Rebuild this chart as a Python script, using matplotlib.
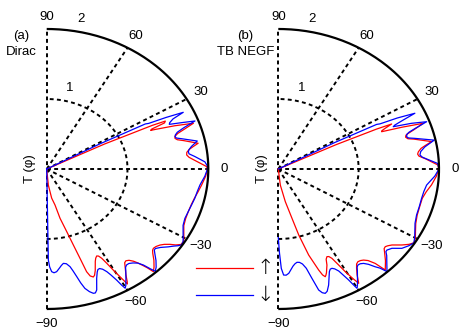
import numpy as np
import matplotlib
matplotlib.use("Agg")
import matplotlib.pyplot as plt
from matplotlib.lines import Line2D

# ---- panel (a): Dirac ----
phi_a_up = [90, 27.5, 26.5, 25.5, 25.0, 24.3, 23.7, 23.2, 22.8, 21.3, 19.8, 18.5, 17.4, 16.4, 15.4,
            14.5, 13.5, 11.1, 10.0, 9.0, 7.8, 6.6, 5.4, 4.0, 1.0, 0, -3, -6.9, -10, -12.9, -16,
            -19, -22.4, -25.5, -27.9, -30, -31.5, -33, -34.2, -35.2, -36.5, -37.8, -39.3, -40.6,
            -41.5, -42.5, -44.5, -46.5, -48, -48.6, -49.2, -50.0, -50.8, -52.0, -53.2, -54.2,
            -55, -57, -58.2, -58.7, -59.4, -60.3, -61.1, -61.9, -62.7, -63.5, -64.5, -65.5,
            -67.5, -68.7, -69.5, -70.6, -71.4, -72.1, -73.1, -74.5, -76.8, -78.7, -81.6, -85, -90]
t_a_up = [0, 0, 0.8, 1.45, 1.62, 1.60, 1.42, 1.40, 1.46, 1.70, 1.93, 1.80, 1.70, 1.655, 1.647,
          1.67, 1.74, 1.91, 1.84, 1.785, 1.75, 1.744, 1.77, 1.83, 1.98, 1.99, 1.97, 1.93, 1.90, 1.875,
          1.86, 1.855, 1.86, 1.88, 1.92, 1.96, 1.985, 1.98, 1.93, 1.867, 1.81, 1.773, 1.748, 1.74,
          1.75, 1.78, 1.86, 1.93, 1.973, 1.88, 1.82, 1.75, 1.70, 1.655, 1.637, 1.65,
          1.69, 1.80, 1.89, 1.922, 1.80, 1.662, 1.54, 1.446, 1.40, 1.388, 1.41, 1.45,
          1.57, 1.63, 1.647, 1.62, 1.548, 1.341, 1.135, 0.929, 0.724, 0.524, 0.42, 0.23, 0]

phi_a_dn = [90, 30.0, 28.6, 27.8, 27.3, 26.5, 25.6, 24.6, 23.5, 22.8, 21.6, 20.5, 19.2, 18.0, 17.0,
            16.2, 15.4, 14.6, 12.1, 10.2, 9.0, 8.0, 7.0, 5.6, 3.0, 1.2, 0, -3, -6.9, -10, -12.9,
            -16, -19, -22.4, -25.5, -27.9, -30, -31.5, -33, -34, -35, -36.5, -38.5, -40.2, -41,
            -42, -44, -46, -47.4, -48.0, -48.9, -50.0, -51.5, -53.0, -54.2, -55.2, -56, -58,
            -59.5, -60.3, -60.8, -61.4, -62.3, -63.1, -64.2, -65.3, -66.2, -67, -68.4, -70.3,
            -71.2, -72, -73.2, -74.5, -75.5, -76.4, -77.4, -78.3, -79.8, -81.3, -82.5, -83.5,
            -85.2, -86.5, -87.6, -88.5, -89.1, -90]
t_a_dn = [0, 0, 0.75, 1.38, 1.42, 1.65, 1.874, 1.72, 1.66, 1.646, 1.80, 1.959, 1.80, 1.70, 1.665,
          1.654, 1.665, 1.72, 1.906, 1.82, 1.785, 1.77, 1.775, 1.84, 1.96, 1.99, 1.99, 1.96, 1.91,
          1.89, 1.88, 1.865, 1.855, 1.85, 1.87, 1.91, 1.95, 1.98, 1.99, 1.96, 1.92, 1.87, 1.80,
          1.76, 1.765, 1.80, 1.88, 1.95, 1.985, 1.92, 1.82, 1.755, 1.715, 1.69, 1.69, 1.71, 1.75,
          1.85, 1.93, 1.96, 1.90, 1.807, 1.71, 1.644, 1.59, 1.565, 1.57, 1.60, 1.68, 1.836,
          1.87, 1.867, 1.83, 1.77, 1.68, 1.582, 1.49, 1.425, 1.375, 1.364, 1.39, 1.42,
          1.472, 1.485, 1.468, 1.40, 1.30, 0]

# ---- panel (b): TB NEGF ----
phi_b_up = [90, 26.8, 25.8, 25.0, 24.5, 23.6, 23.0, 22.5, 21.2, 19.9, 18.4, 17.4, 16.9, 16.0, 15.0,
            14.2, 11.6, 10.4, 9.4, 8.0, 7.0, 6.0, 4.5, 1.6, 0, -3, -6.8, -10, -13.2, -17, -20.9,
            -24.5, -27.8, -30, -32, -33.5, -35.2, -37.5, -38.8, -39.8, -40.8, -42, -44.5, -47.3,
            -48.2, -49.5, -50.8, -52.0, -53.2, -54.3, -55.5, -57, -58.5, -59.4, -60.4, -61.4,
            -62.4, -63.3, -64.2, -65.2, -66.2, -68, -68.7, -69.2, -70.0, -70.8, -72.9, -74.9,
            -76.4, -79.4, -83.8, -90]
t_b_up = [0, 0, 0.8, 1.35, 1.55, 1.45, 1.40, 1.392, 1.65, 1.918, 1.78, 1.69, 1.66, 1.648, 1.67,
          1.74, 1.947, 1.86, 1.80, 1.76, 1.747, 1.76, 1.84, 1.99, 1.995, 1.97, 1.92, 1.87, 1.84,
          1.84, 1.85, 1.88, 1.93, 1.97, 1.99, 1.95, 1.883, 1.783, 1.75, 1.733, 1.74, 1.78, 1.87,
          1.963, 1.809, 1.72, 1.679, 1.66, 1.654, 1.67, 1.72, 1.80, 1.915, 1.81, 1.687, 1.55,
          1.44, 1.40, 1.391, 1.42, 1.50, 1.60, 1.63, 1.646, 1.61, 1.528, 1.286, 0.977,
          0.725, 0.475, 0.23, 0]

phi_b_dn = [90, 29.5, 28.3, 27.5, 27.0, 26.2, 25.1, 24.2, 23.4, 22.9, 21.5, 20.1, 18.8, 17.9, 17.2,
            16.1, 15.3, 14.5, 12.0, 9.8, 8.0, 6.5, 5.4, 4.3, 2.3, 0, -3, -7.1, -10, -13.2, -17,
            -20.9, -24.5, -27.8, -30, -32, -34, -36.4, -38.7, -40.6, -41.4, -42.5, -45, -47.3,
            -48.2, -49.2, -50.5, -51.8, -53.0, -54.1, -55.0, -56, -58, -59.3, -60.1, -60.6,
            -61.1, -61.9, -62.7, -63.8, -64.8, -65.7, -66.6, -69.3, -70.8, -71.8, -72.8, -73.8,
            -75, -76.2, -77.5, -78.8, -80.1, -81.3, -82.5, -85, -86.3, -87.5, -88.5, -89.3, -90]
t_b_dn = [0, 0, 0.8, 1.38, 1.42, 1.65, 1.877, 1.70, 1.58, 1.553, 1.78, 1.966, 1.80, 1.71, 1.675,
          1.662, 1.68, 1.75, 1.984, 1.85, 1.79, 1.774, 1.80, 1.86, 1.984, 2.0, 1.95, 1.86, 1.84,
          1.832, 1.835, 1.842, 1.87, 1.921, 1.96, 1.99, 1.96, 1.91, 1.812, 1.78, 1.785, 1.83, 1.91,
          1.995, 1.90, 1.845, 1.765, 1.716, 1.695, 1.692, 1.71, 1.76, 1.86, 1.93, 1.966, 1.89,
          1.81, 1.72, 1.64, 1.59, 1.568, 1.57, 1.60, 1.772, 1.85, 1.87, 1.85, 1.80,
          1.617, 1.46, 1.39, 1.36, 1.353, 1.37, 1.40, 1.496, 1.52, 1.516, 1.42, 1.20, 0.98]

angle_ticks = [60, 30, 0, -30, -60]
angle_labels = ["60", "30", "0", "\u221230", "\u221260"]

plt.rcParams['font.family'] = ['Liberation Sans', 'DejaVu Sans']
plt.rcParams['font.size'] = 9.5

fig = plt.figure(figsize=(4.69, 3.32), dpi=100)

dash = (0, (2.0, 1.7))


def polar_xy(phi, t):
    p = np.deg2rad(np.asarray(phi, dtype=float))
    t = np.asarray(t, dtype=float)
    return t * np.cos(p), t * np.sin(p)


def panel(rect, phi_up, t_up, phi_dn, t_dn, tag, name, tagx):
    ax = fig.add_axes(rect)
    ax.set_xlim(0, 2)
    ax.set_ylim(-2, 2)
    ax.axis('off')

    # dashed grid
    ax.plot([0, 0], [-2, 2], color='k', lw=1.4, ls=dash, clip_on=False)
    for a in angle_ticks:
        x, y = polar_xy([0, a], [0, 2])
        ax.plot(x, y, color='k', lw=1.4, ls=dash, clip_on=False)
    th = np.linspace(-90, 90, 200)
    x, y = polar_xy(th, np.ones_like(th))
    ax.plot(x, y, color='k', lw=1.4, ls=dash, clip_on=False)

    # transmission curves
    x, y = polar_xy(phi_up, t_up)
    ax.plot(x, y, color='#ff0000', lw=0.9, clip_on=False)
    x, y = polar_xy(phi_dn, t_dn)
    ax.plot(x, y, color='#0000ff', lw=0.9, clip_on=False)

    # outer arc
    x, y = polar_xy(th, 2 * np.ones_like(th))
    ax.plot(x, y, color='k', lw=1.6, clip_on=False, solid_capstyle='butt')

    for a, s in zip(angle_ticks, angle_labels):
        x, y = polar_xy([a], [2.2])
        ax.text(x[0], y[0], s, ha='center', va='center')
    ax.text(0, 2.17, "90", ha='center', va='center')
    ax.text(0, -2.22, "\u221290", ha='center', va='center')
    ax.text(0.42, 2.15, "2", ha='center', va='center')
    ax.text(0.29, 1.16, "1", ha='center', va='center')
    ax.text(-0.205, 0, "T (\u03c6)", rotation=90, ha='center', va='center')
    ax.text(tagx, 1.9, tag, ha='center', va='center')
    ax.text(tagx, 1.675, name, ha='center', va='center')
    return ax


panel([46.7 / 469, 23 / 332, 161.6 / 469, 280 / 332],
      phi_a_up, t_a_up, phi_a_dn, t_a_dn, "(a)", "Dirac", -0.31)
panel([278.3 / 469, 23 / 332, 160.7 / 469, 280 / 332],
      phi_b_up, t_b_up, phi_b_dn, t_b_dn, "(b)", "TB NEGF", -0.41)

# legend
fig.add_artist(Line2D([196 / 469, 253 / 469], [1 - 268.3 / 332] * 2, color='#ff0000', lw=0.9))
fig.add_artist(Line2D([196 / 469, 253 / 469], [1 - 295 / 332] * 2, color='#0000ff', lw=0.9))
fig.text(265 / 469, 1 - 268.3 / 332, "\u2191", ha='center', va='center', fontsize=15,
         family=['DejaVu Sans'], fontweight='light')
fig.text(265 / 469, 1 - 295 / 332, "\u2193", ha='center', va='center', fontsize=15,
         family=['DejaVu Sans'], fontweight='light')

fig.savefig("out.png", dpi=100)
